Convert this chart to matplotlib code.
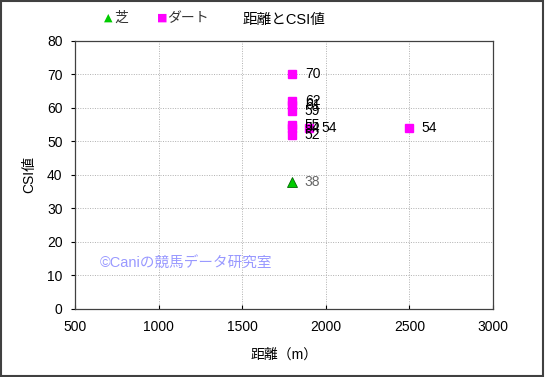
import matplotlib
matplotlib.use("Agg")
from matplotlib import pyplot as plt

plt.rcParams['font.family'] = ['Liberation Sans', 'Noto Sans CJK JP', 'DejaVu Sans']

turf_dist = [1800]
turf_csi = [38]

dirt_dist = [1800, 1800, 1800, 1800, 1800, 1800, 1800, 1900, 2500]
dirt_csi = [70, 62, 61, 59, 55, 54, 52, 54, 54]

fig = plt.figure(figsize=(5.45, 3.77), dpi=100)
ax = fig.add_axes([0.1376, 0.1804, 0.767, 0.711])

ax.plot(turf_dist, turf_csi, linestyle='none', marker='^', markersize=6.5,
        markerfacecolor='#00cc00', markeredgecolor='#006600', markeredgewidth=0.6)
ax.plot(dirt_dist, dirt_csi, linestyle='none', marker='s', markersize=5.5,
        color='#ff00ff')

for x, y in zip(turf_dist, turf_csi):
    ax.annotate(str(y), (x, y), xytext=(9, 0), textcoords='offset points',
                va='center', fontsize=10, color='#666666')
for x, y in zip(dirt_dist, dirt_csi):
    ax.annotate(str(y), (x, y), xytext=(9, 0), textcoords='offset points',
                va='center', fontsize=10, color='black')

ax.set_xlim(500, 3000)
ax.set_ylim(0, 80)
ax.set_xticks(range(500, 3001, 500))
ax.set_yticks(range(0, 81, 10))
ax.tick_params(axis='x', direction='in', length=3, labelsize=10, pad=8)
ax.tick_params(axis='y', direction='out', length=3, labelsize=10, pad=6)
ax.grid(True, color='#b0b0b0', linestyle=(0, (1, 1.5)), linewidth=0.7)
for s in ax.spines.values():
    s.set_color('#404040')
    s.set_linewidth(0.9)

ax.set_xlabel('距離（m）', fontsize=10, labelpad=10)
ax.set_ylabel('CSI値', fontsize=10, labelpad=8)
ax.set_title('距離とCSI値', fontsize=10.5, pad=12)

fig.text(0.19, 0.952, '▲', color='#00cc00', fontsize=8, va='center',
         family=['DejaVu Sans'])
fig.text(0.209, 0.952, '芝', fontsize=10, va='center', color='#333333')
fig.text(0.288, 0.952, '■', color='#ff00ff', fontsize=8, va='center',
         family=['DejaVu Sans'])
fig.text(0.307, 0.952, 'ダート', fontsize=10, va='center', color='#333333')

ax.text(650, 13.5, '©Caniの競馬データ研究室', fontsize=10.5, color='#9999ff',
        va='center')

fig.patches.append(plt.Rectangle((0.002, 0.003), 0.995, 0.994, transform=fig.transFigure,
                                 fill=False, edgecolor='#404040', linewidth=1.5))

fig.savefig('out.png', dpi=100)
